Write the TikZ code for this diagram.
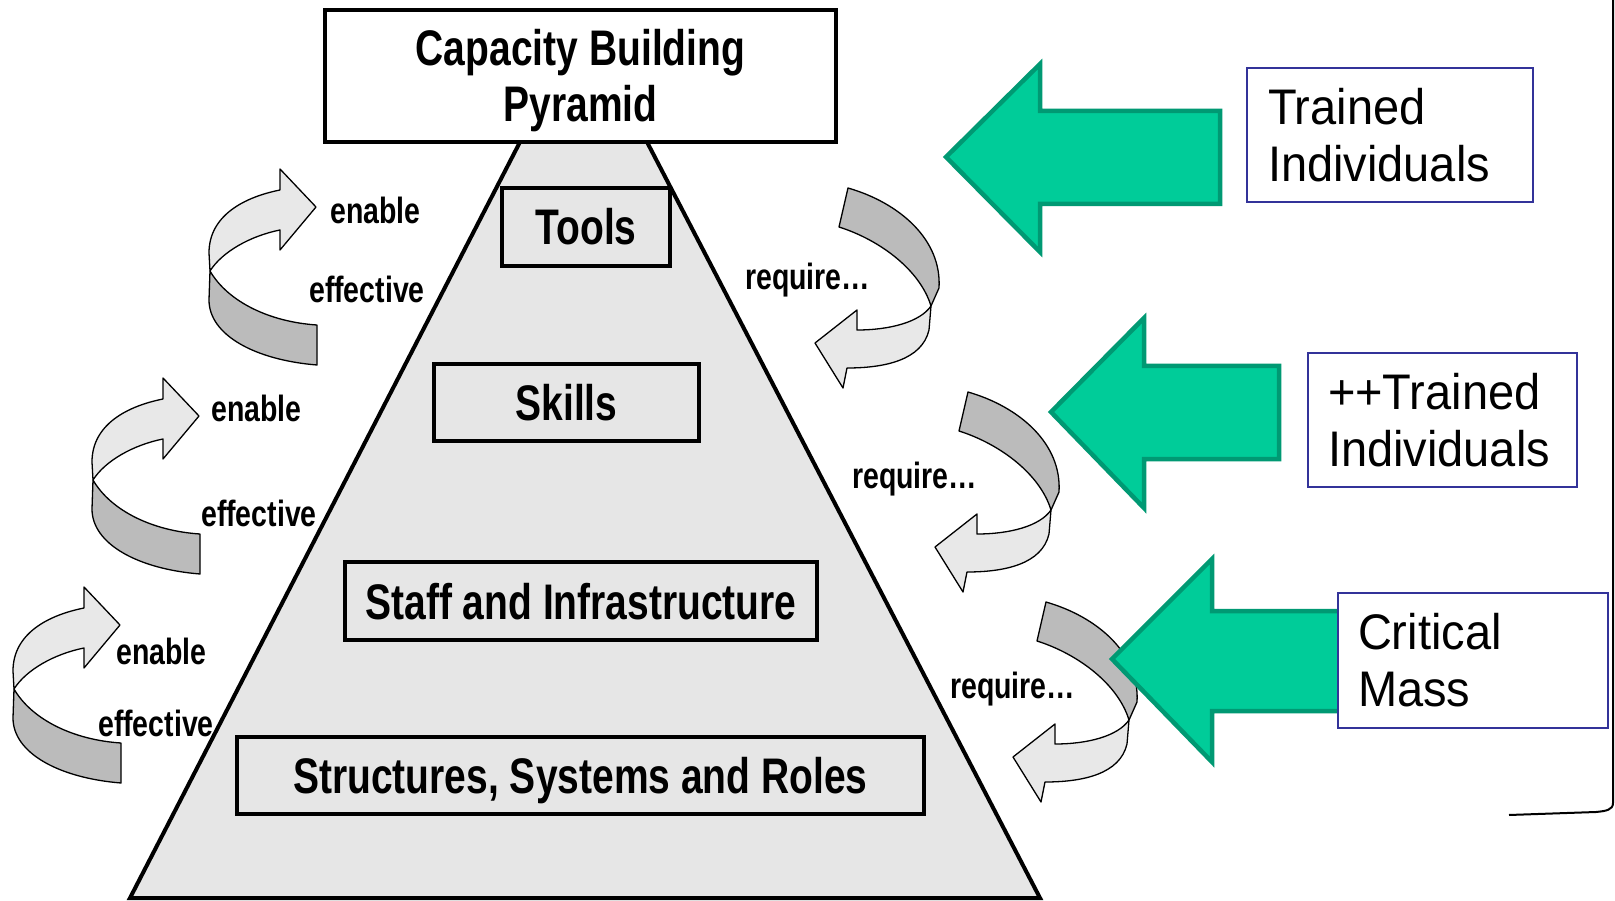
\documentclass[tikz,border=0pt]{standalone}
\usepackage{fontspec}
\setmainfont{Liberation Sans}
\newfontfamily\nbfam{Liberation Sans}[FakeStretch=0.78]
\newfontfamily\nrfam{Liberation Sans}[FakeStretch=0.94]
\definecolor{pyrfill}{HTML}{E6E6E6}
\definecolor{ribbonlight}{HTML}{E8E8E8}
\definecolor{ribbondark}{HTML}{BBBBBB}
\definecolor{greenfill}{HTML}{00CC99}
\definecolor{greenline}{HTML}{009973}
\definecolor{boxblue}{HTML}{333399}
\newcommand\leftribbon[2]{%
  \begin{scope}[shift={(#1,#2)}]
    \draw[ribbonline, fill=ribbonlight] (209,253) .. controls (209,215) and (245,197) .. (280,190)
      -- (280,169) -- (316,207) -- (280,250) -- (280,230)
      .. controls (250,236) and (222,252) .. (210,271) -- cycle;
    \draw[ribbonline, fill=ribbondark] (210,271) .. controls (228,302) and (270,322) .. (317,325)
      -- (317,365) .. controls (255,360) and (209,335) .. (209,300) -- cycle;
  \end{scope}}
\newcommand\rightribbon[2]{%
  \begin{scope}[shift={(#1,#2)}]
    \draw[ribbonline, fill=ribbondark] (848,188) .. controls (900,203) and (942,240) .. (939,288)
      -- (931,306) .. controls (920,270) and (880,240) .. (839,227) -- cycle;
    \draw[ribbonline, fill=ribbonlight] (931,306) -- (929,330) .. controls (922,360) and (885,368) .. (847,368)
      -- (843,388) -- (815,343) -- (857,310) -- (857,330)
      .. controls (890,330) and (920,322) .. (931,306) -- cycle;
  \end{scope}}
\begin{document}
\begin{tikzpicture}[x=1pt,y=-1pt,
  layerbox/.style={draw=black, line width=4pt, inner sep=0pt,
    font=\nbfam\bfseries\fontsize{50}{56}\selectfont, text height=36pt, text depth=0pt},
  titlebox/.style={draw=black, line width=4pt, fill=white, inner sep=0pt},
  titletext/.style={font=\nbfam\bfseries\fontsize{50}{56}\selectfont, align=center, inner sep=0pt},
  smalllabel/.style={font=\nbfam\bfseries\fontsize{36.5}{40}\selectfont, inner sep=0pt, anchor=west},
  bluebox/.style={draw=boxblue, line width=2pt, fill=white, font=\nrfam\fontsize{50}{57}\selectfont,
    align=left, inner ysep=0pt},
  ribbonline/.style={draw=black, line width=1.3pt, line join=round},
  greenarrow/.style={fill=greenfill, draw=greenline, line width=4.5pt, line join=miter}]
\useasboundingbox (0,0) rectangle (1615,901);
\fill[white] (0,0) rectangle (1615,901);

% pyramid
\draw[line width=4pt, fill=pyrfill, line join=miter] (520,142) -- (647,142) -- (1040,898) -- (130,898) -- cycle;

% title
\node[titlebox, minimum width=511pt, minimum height=132pt] (title) at (580.5,76) {};
\node[titletext] (titletxt) at ([yshift=-5pt]title.center) {Capacity Building\\Pyramid};

% layers
\node[layerbox, minimum width=168pt, minimum height=78pt] (tools) at (586,227) {Tools};
\node[layerbox, minimum width=265pt, minimum height=77pt] (skills) at (566.5,402.5) {Skills};
\node[layerbox, minimum width=472pt, minimum height=78pt] (staff) at (581,601) {Staff and Infrastructure};
\node[layerbox, minimum width=687pt, minimum height=77pt] (struct) at (580.5,775.5) {Structures, Systems and Roles};

% left ribbons
\leftribbon{0}{0}
\leftribbon{-117}{209}
\leftribbon{-196}{418}
\node[smalllabel] (enable1) at (330,210) {enable};
\node[smalllabel] (effective1) at (309,289) {effective};
\node[smalllabel] (enable2) at (211,408) {enable};
\node[smalllabel] (effective2) at (201,513) {effective};
\node[smalllabel] (enable3) at (116,651) {enable};
\node[smalllabel] (effective3) at (98,723) {effective};

% right ribbons
\rightribbon{0}{0}
\rightribbon{120}{204}
\rightribbon{198}{414}
\node[smalllabel] (require1) at (745,280) {require…};
\node[smalllabel] (require2) at (852,479) {require…};
\node[smalllabel] (require3) at (950,689) {require…};

% green arrows
\draw[greenarrow] (946,157) -- (1040,64) -- (1040,111) -- (1220,111) -- (1220,204) -- (1040,204) -- (1040,252) -- cycle;
\draw[greenarrow] (1051,412) -- (1144,318) -- (1144,366) -- (1279,366) -- (1279,459) -- (1144,459) -- (1144,508) -- cycle;
\draw[greenarrow] (1112,659) -- (1212,559) -- (1212,611) -- (1340,611) -- (1340,711) -- (1212,711) -- (1212,762) -- cycle;

% blue boxes
\node[bluebox, text width=244pt, inner xsep=21pt, minimum height=134pt] (trained) at (1390,135) {Trained\\Individuals};
\node[bluebox, text width=229pt, inner xsep=20pt, minimum height=134pt] (moretrained) at (1442.5,420) {++Trained\\Individuals};
\node[bluebox, text width=230pt, inner xsep=20pt, minimum height=135pt] (critical) at (1473,660.5) {Critical\\Mass};

% corner line
\coordinate (cornertop) at (1613,0);
\coordinate (cornerend) at (1509,815);
\draw[line width=2pt] (cornertop) -- (1613,803) .. controls (1613,810) and (1606,811) .. (1596,812) -- (cornerend);
\end{tikzpicture}
\end{document}
